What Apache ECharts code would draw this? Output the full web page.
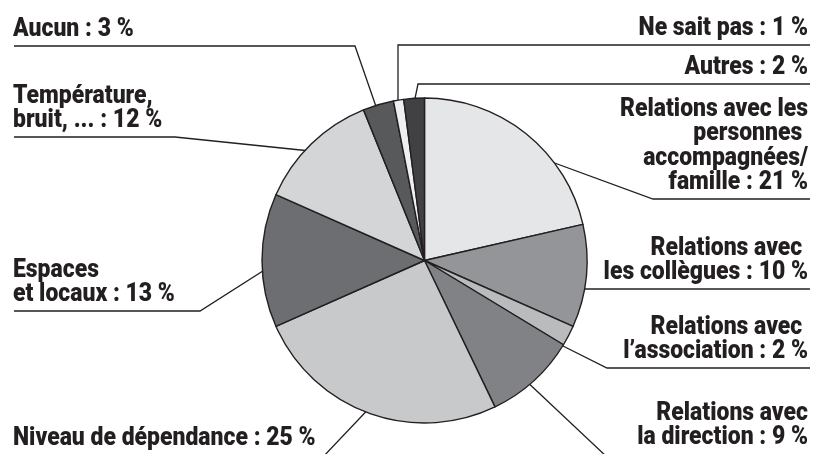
<!DOCTYPE html>
<html>
<head>
<meta charset="utf-8">
<script src="https://cdn.jsdelivr.net/npm/echarts@6/dist/echarts.min.js"></script>
<style>
  html, body { margin: 0; padding: 0; background: #ffffff; }
  #chart { width: 813px; height: 454px; }
</style>
</head>
<body>
<div id="chart"></div>
<script>
// Sources de gêne citées (en %), dans l'ordre horaire depuis midi
const categories = [
  'Relations avec les\npersonnes \naccompagnées/\nfamille',
  'Relations avec \nles collègues',
  'Relations avec \nl\u2019association',
  'Relations avec\nla direction',
  'Niveau de dépendance',
  'Espaces\net locaux',
  'Température,\nbruit, ...',
  'Aucun',
  'Ne sait pas',
  'Autres'
];
const values = [21, 10, 2, 9, 25, 13, 12, 3, 1, 2];
const sliceColors = [
  '#e5e6e8', '#939598', '#b9bbbd', '#808285', '#c8c9cb',
  '#6d6e71', '#d4d5d7', '#58595b', '#eeeff0', '#414042'
];

// Placement des étiquettes et des traits de rappel (pixels)
const labelPlacement = [
  { x: 808, y: 195, align: 'right', line: [[530, 154], [653, 199], [810, 199]] },
  { x: 808, y: 285, align: 'right', line: [[573, 289], [600, 289], [810, 289]] },
  { x: 808, y: 364, align: 'right', line: [[557, 343], [607, 368], [810, 368]] },
  { x: 808, y: 450, align: 'right', line: [[523, 378], [608, 458], [810, 458]] },
  { x: 13,  y: 451, align: 'left',  line: [[377, 400], [322, 458], [14, 458]] },
  { x: 13,  y: 307, align: 'left',  line: [[277, 262], [200, 311], [14, 311]] },
  { x: 13,  y: 133, align: 'left',  line: [[320, 152], [175, 137], [14, 137]] },
  { x: 13,  y: 42,  align: 'left',  line: [[380, 118], [355, 46], [14, 46]] },
  { x: 808, y: 41,  align: 'right', line: [[398, 107], [398, 45], [810, 45]] },
  { x: 808, y: 80,  align: 'right', line: [[413, 108], [418, 84], [810, 84]] }
];

// Police grasse la plus étroite disponible, puis resserrée horizontalement
function pickCondensedFont() {
  const sample = 'Relations avec les';
  const targetWidth = 188;       // largeur voulue de la ligne témoin
  const fontSize = 26;
  const ctx = document.createElement('canvas').getContext('2d');
  const measure = font => { ctx.font = font; return ctx.measureText(sample).width; };
  const candidates = [
    { family: '"Noto Sans Condensed"', weight: 'bold' },
    { family: '"Liberation Sans Narrow"', weight: 'bold' },
    { family: '"DejaVu Sans Condensed"', weight: 'bold' },
    { family: 'Roboto', weight: '900' },
    { family: '"Liberation Sans"', weight: 'bold' }
  ];
  let best = null;
  candidates.forEach(c => {
    const a = measure(c.weight + ' 100px ' + c.family + ', monospace');
    const b = measure(c.weight + ' 100px ' + c.family + ', serif');
    if (Math.abs(a - b) > 0.5) return;           // police absente
    const em = a / 100;
    if (!best || em < best.em) best = { c, em };
  });
  if (!best) return { family: 'sans-serif', weight: 'bold', size: 22, scaleX: 1 };
  return {
    family: best.c.family + ', sans-serif',
    weight: best.c.weight,
    size: fontSize,
    scaleX: Math.min(1, targetWidth / (best.em * fontSize))
  };
}

const font = pickCondensedFont();

const chart = echarts.init(document.getElementById('chart'), null, { renderer: 'canvas' });

chart.setOption({
  animation: false,
  backgroundColor: '#ffffff',
  series: [{
    type: 'pie',
    center: [424.5, 260.5],
    radius: 162.5,
    startAngle: 90,
    clockwise: true,
    avoidLabelOverlap: false,
    silent: true,
    data: categories.map((name, i) => ({
      name: name,
      value: values[i],
      itemStyle: { color: sliceColors[i] }
    })),
    itemStyle: {
      borderColor: '#231f20',
      borderWidth: 1.4
    },
    label: {
      show: true,
      position: 'outside',
      formatter: p => p.name + ' : ' + p.value + ' %',
      fontFamily: font.family,
      fontWeight: font.weight,
      fontSize: font.size,
      lineHeight: 24.5,
      color: '#231f20'
    },
    labelLine: {
      show: true,
      lineStyle: { color: '#231f20', width: 1.3 }
    },
    labelLayout: function (params) {
      const p = labelPlacement[params.dataIndex];
      return {
        x: p.x,
        y: p.y,
        align: p.align,
        verticalAlign: 'bottom',
        labelLinePoints: p.line,
        hideOverlap: false
      };
    },
    emphasis: { disabled: true }
  }]
});

// Resserrement horizontal des étiquettes autour de leur point d'ancrage
function condenseLabels() {
  const seriesData = chart.getModel().getSeriesByIndex(0).getData();
  seriesData.each(idx => {
    const el = seriesData.getItemGraphicEl(idx);
    const label = el && el.getTextContent();
    if (label) {
      label.scaleX = font.scaleX;
      label.markRedraw();
    }
  });
  chart.getZr().refreshImmediately();
}
condenseLabels();
</script>
</body>
</html>
